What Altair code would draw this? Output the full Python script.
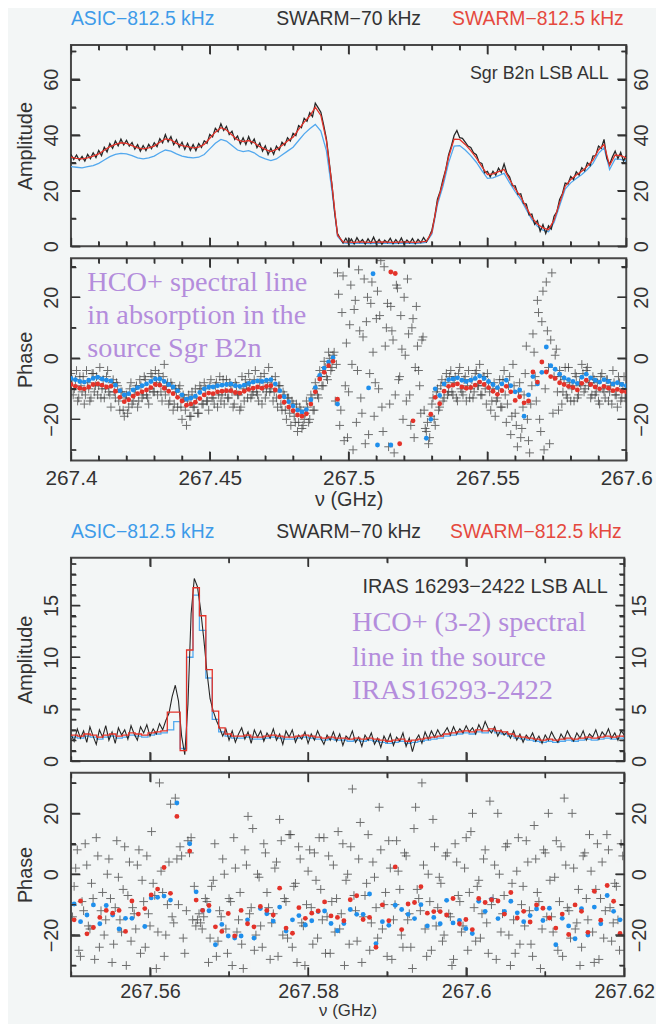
import altair as alt
import pandas as pd

# ------------------------------------------------------------------ data
# Sgr B2n panel: channel grids (GHz)
P1_START = 267.4
AMP1_STEP = 0.002        # SWARM / ASIC 812.5 kHz amplitude samples shown
AMP1_BLACK_STEP = 0.001  # SWARM 70 kHz amplitude samples shown
PH1_STEP = 0.0016
PH1_BLACK_STEP = 0.0008
PH1_BLACK2_START = 267.4004

amp1_red = [32.0, 31.6, 31.4, 31.8, 32.4, 33.2, 34.5, 35.8, 36.6, 37.2,
            37.0, 36.2, 35.4, 35.0, 35.4, 36.0, 37.4, 38.6, 38.2, 37.0,
            36.2, 35.8, 35.4, 35.6, 36.6, 38.8, 41.0, 42.6, 41.8, 40.0,
            38.2, 37.6, 38.0, 37.2, 35.8, 34.8, 34.0, 34.8, 36.2, 37.8,
            39.2, 42.0, 44.6, 46.8, 50.0, 47.0, 38.0, 22.0, 4.0, 1.6,
            1.5, 1.4, 1.6, 1.5, 1.4, 1.5, 1.6, 1.5, 1.4, 1.5, 1.6, 1.5, 1.4, 1.6, 1.8,
            5.0, 16.0, 23.0, 32.0, 38.5, 38.4, 36.6, 34.4, 31.8, 28.6,
            25.8, 26.0, 26.8, 27.6, 24.0, 20.6, 17.8, 14.0, 10.4, 8.0,
            6.6, 6.0, 9.4, 15.6, 21.6, 24.0, 25.6, 27.0, 28.8, 31.0,
            34.6, 36.6, 29.0, 32.8, 32.6, 31.8]

amp1_blue = [28.6, 28.4, 28.2, 28.6, 29.0, 29.8, 31.0, 32.2, 33.0, 33.4,
             33.2, 32.6, 31.8, 31.4, 31.8, 32.4, 33.6, 34.6, 34.2, 33.2,
             32.4, 32.0, 31.8, 32.0, 33.0, 35.0, 37.0, 38.4, 37.8, 36.2,
             34.6, 34.0, 34.4, 33.6, 32.2, 31.4, 30.8, 31.4, 32.8, 34.2,
             35.6, 38.0, 40.4, 42.2, 43.8, 41.4, 34.4, 20.0, 3.6, 1.2,
             1.1, 1.0, 1.2, 1.1, 1.0, 1.1, 1.2, 1.1, 1.0, 1.1, 1.2, 1.1, 1.0, 1.2, 1.4,
             4.4, 15.0, 21.6, 30.0, 36.0, 36.2, 34.6, 32.6, 30.2, 27.2,
             24.4, 24.6, 25.4, 26.2, 22.8, 19.6, 16.8, 13.2, 9.6, 7.2,
             5.8, 5.2, 8.6, 14.6, 20.6, 22.8, 24.4, 25.8, 27.6, 29.8,
             33.4, 35.4, 27.6, 31.4, 31.2, 30.6]

amp1_black = [33.1, 31.2, 32.8, 30.9, 32.3, 30.6, 33.0, 31.5, 33.6, 31.9,
              34.4, 32.6, 35.6, 33.9, 36.9, 35.2, 37.8, 36.1, 38.5, 36.4,
              38.1, 36.0, 37.3, 34.9, 36.5, 34.2, 36.2, 34.4, 36.6, 35.1,
              37.2, 35.8, 38.7, 37.2, 40.1, 37.6, 39.4, 36.5, 38.3, 35.6,
              37.4, 34.8, 37.0, 34.5, 36.6, 34.4, 36.9, 35.5, 37.9, 37.0,
              40.2, 39.3, 42.4, 41.2, 44.0, 41.6, 43.1, 40.2, 41.3, 38.4,
              39.6, 36.8, 39.0, 36.6, 39.4, 36.9, 38.5, 35.4, 37.1, 34.2,
              36.1, 33.0, 35.2, 33.1, 36.0, 34.6, 37.4, 36.3, 39.0, 37.8,
              40.6, 39.8, 43.4, 42.6, 46.0, 44.9, 48.0, 46.6, 51.4, 49.8,
              48.2, 43.6, 38.6, 30.4, 22.2, 12.0, 4.6, 2.8, 1.2, 2.9,
              1.0, 2.6, 0.9, 3.1, 1.4, 2.4, 0.8, 2.7, 1.2, 3.3,
              1.0, 2.5, 0.7, 2.2, 1.3, 2.9, 0.9, 2.4, 1.1, 3.0,
              0.8, 2.3, 1.2, 2.8, 0.9, 2.5, 1.3, 3.2, 1.6, 3.4,
              5.8, 10.6, 16.9, 19.8, 24.0, 27.6, 32.8, 36.0, 39.8, 41.6,
              39.0, 38.8, 37.4, 36.0, 35.5, 33.6, 32.9, 30.2, 29.8, 26.4,
              26.9, 25.0, 27.0, 25.6, 28.1, 26.5, 29.6, 26.3, 24.9, 21.8,
              21.7, 18.6, 18.9, 15.4, 15.2, 11.3, 11.6, 7.9, 9.2, 5.4,
              7.8, 4.6, 7.4, 6.2, 10.8, 12.4, 16.8, 18.9, 22.7, 22.4,
              25.1, 24.0, 26.8, 25.6, 28.2, 27.1, 30.0, 29.0, 32.4, 32.6,
              36.0, 35.2, 38.4, 31.6, 29.4, 32.1, 34.2, 31.5, 33.8, 30.6,
              32.6]

ph1_red = [-8.6, -9.2, -9.8, -10.0, -9.4, -8.6, -8.4, -8.8, -9.4, -9.2,
           -10.8, -12.8, -14.2, -13.6, -12.4, -11.6, -11.0, -10.4, -9.6, -8.6,
           -8.8, -9.8, -10.8, -11.6, -12.8, -14.0, -15.4, -15.0, -14.4, -13.2,
           -12.0, -11.4, -11.6, -11.0, -10.8, -10.6, -10.6, -11.2, -11.4, -10.8,
           -10.2, -9.8, -9.4, -9.8, -9.2, -9.0, -10.4, -12.6, -14.4, -16.0,
           -17.2, -18.6, -19.0, -18.2, -15.0, -11.0, -6.8, -4.6, -2.4, -1.0,
           -13.4, None, None, None, None, None, None, None, None, None,
           None, None, 28.3, 27.8, -28.0, None, None, -20.5, None, None,
           None, -18.3, -12.8, -14.9, -10.8, -9.2, -8.8, -8.4, -9.4, -9.8,
           -9.6, -8.8, -7.8, -8.6, -9.6, -10.8, -11.8, -10.6, -9.2, -11.0,
           -13.8, -12.6, -14.6, -14.0, -4.5, -7.8, -1.2, -4.5, -6.0, -6.6,
           -8.0, -8.6, -9.2, -9.6, -10.4, -8.2, -7.2, -8.6, -9.4, -10.0,
           -9.2, -9.8, -10.6, -10.2, -10.8, -11.0]

ph1_blue = [-6.6, -7.0, -7.6, -7.8, -7.2, -6.6, -6.2, -6.8, -7.2, -7.4,
            -8.8, -10.6, -12.0, -11.6, -10.4, -9.6, -9.0, -8.4, -7.6, -6.8,
            -6.8, -7.6, -8.6, -9.4, -10.6, -12.0, -13.4, -13.0, -12.4, -11.2,
            -10.0, -9.4, -9.4, -9.0, -8.8, -8.6, -8.4, -9.0, -9.2, -8.8,
            -8.2, -7.8, -7.4, -7.6, -7.2, -7.0, -8.4, -10.6, -12.6, -14.2,
            -15.6, -17.0, -17.6, -16.8, -13.6, -9.6, -5.6, -3.2, -1.2, 0.2,
            -15.0, None, None, None, None, None, None, -9.7, 27.7, -28.4,
            None, None, -28.4, None, None, None, None, None, None, None,
            -26.2, -20.0, -10.0, -12.2, -8.4, -7.0, -6.8, -6.4, -7.2, -7.6,
            -7.2, -6.6, -5.8, -6.6, -7.6, -8.6, -9.6, -8.4, -7.2, -9.0,
            -11.0, -10.4, -19.0, -12.0, -6.0, -8.4, -4.6, 3.7, -2.4, -3.6,
            -5.2, -6.4, -7.0, -7.6, -8.2, -6.2, -5.2, -6.4, -7.2, -7.8,
            -7.0, -7.6, -8.4, -8.0, -8.6, -9.0]

ph1_black = [-5, -12, -7, -14, -6, -11, -15, -4, -10, -13,
             -5, -9, -12, -3, -10, -13, -6, -11, -16, -7,
             -13, -9, -17, -11, -19, -12, -16, -8, -14, -10,
             -16, -7, -13, -6, -12, -15, -5, -11, -4, -12,
             -7, -14, -2, -9, -15, -8, -17, -10, -16, -9,
             -20, -13, -22, -12, -19, -16, -10, -18, -9, -15,
             -8, -14, -17, -7, -13, -9, -16, -6, -12, -15,
             -7, -13, -9, -16, -8, -12, -17, -6, -14, -9,
             -5, -13, -11, -4, -12, -8, -15, -5, -11, -3,
             -10, -14, -6, -16, -9, -17, -12, -20, -13, -22,
             -15, -21, -24, -16, -23, -20, -14, -21, -12, -17,
             -8, -12, -4, -9, -1, -6, 2, -4, 1, -14,
             28, -22, 15, -27, 5, -11, 24, -30, 19, -4,
             9, -18, 26, 12, -25, 18, 2, -8, 22, 14,
             -16, 30, 10, -29, 17, 6, -12, 23, -6, 3,
             20, -14, 8, -22, 13, -3, 4, -9, 6, -17,
             -24, -28, -19, -13, -22, -10, -16, -7, -13, -5,
             -11, -4, -12, -6, -14, -3, -11, -7, -14, -4,
             -10, -13, -5, -9, -2, -12, -6, -15, -8, -17,
             -10, -19, -13, -7, -16, -4, -21, -9, -25, -2,
             -18, -29, -8, -23, -12, 4, -27, -15, 8, -6,
             19, -20, 12, -30, 25, -3, 6, -18, 1, -11,
             -4, -15, -7, -12, -3, -14, -9, -5, -13, -8,
             -2, -11, -4, -9, -13, -6, -12, -8, -15, -5,
             -11, -7, -14, -9, -4, -12, -16, -8, -13, -6,
             -10]

ph1_black2 = [-7, -10, -4, -13, -9, -6, -12, -8, -14, -5,
              -11, -6, -9, -13, -7, -10, -4, -12, -8, -11,
              -8, -14, -11, -17, -13, -18, -10, -15, -12, -9,
              -14, -9, -12, -7, -13, -10, -6, -11, -8, -5,
              -11, -6, -12, -8, -14, -9, -15, -11, -10, -16,
              -12, -17, -14, -19, -11, -16, -13, -18, -10, -15,
              -10, -14, -9, -13, -15, -8, -12, -14, -7, -11,
              -13, -8, -11, -15, -9, -12, -16, -10, -7, -13,
              -8, -12, -7, -11, -14, -6, -10, -13, -8, -11,
              -7, -11, -13, -9, -15, -11, -17, -13, -18, -14,
              -19, -15, -21, -17, -22, -18, -16, -20, -13, -17,
              -10, -13, -6, -9, -3, -7, 0, -3, 2, -2,
              21, -17, 27, -9, -26, 11, -2, 16, -21, 29,
              -13, 7, -28, 20, -5, 25, -19, 13, -10, 32,
              -24, 4, 18, -15, 9, -31, 24, -7, 14, -20,
              1, 26, -12, 10, -26, 17, -4, -18, 7, -23,
              -21, -26, -15, -20, -11, -17, -9, -14, -8, -12,
              -6, -11, -8, -13, -5, -10, -12, -6, -9, -13,
              -7, -11, -4, -9, -12, -6, -10, -5, -11, -14,
              -8, -14, -10, -16, -7, -12, -15, -6, -19, -9,
              -22, -11, -26, -16, -5, -20, -31, -9, 2, -14,
              15, -24, 22, -10, 9, -28, 28, -6, 3, -17,
              -6, -11, -3, -13, -8, -10, -14, -6, -12, -9,
              -5, -10, -3, -8, -12, -7, -11, -14, -6, -10,
              -13, -7, -11, -15, -8, -12, -6, -14, -10, -13]

# IRAS 16293-2422 panel
P2_START = 267.55
CH812 = 0.0008125
P2_BLACK_STEP = 0.0004
PH2_START = 267.5504
PH2_BLACK2_START = 267.5502

amp2_red = [2.5, 2.4, 2.6, 2.5, 2.3, 2.5, 2.6, 2.4, 2.5, 2.7, 2.6, 2.5, 2.7, 2.8, 2.9,
            4.7, 4.7, 1.0, 10.7, 16.7, 14.0, 8.8, 4.8, 3.2, 2.6,
            2.4, 2.4, 2.5, 2.3, 2.3, 2.4, 2.5, 2.4, 2.3, 2.3,
            2.4, 2.5, 2.4, 2.3, 2.2, 2.3, 2.2, 2.2, 2.1, 2.2,
            2.1, 2.2, 2.1, 2.0, 1.9, 2.0, 2.1, 1.9, 2.0, 2.1,
            2.2, 2.3, 2.4, 2.6, 2.7, 2.8, 2.9, 2.8, 3.0, 2.9,
            3.1, 2.9, 2.8, 2.6, 2.4, 2.3, 2.2, 2.1, 2.0, 2.1,
            2.0, 2.1, 2.2, 2.1, 2.2, 2.3, 2.2, 2.3, 2.4, 2.3,
            2.4, 2.3]

amp2_blue = [2.3, 2.2, 2.4, 2.3, 2.1, 2.3, 2.4, 2.2, 2.3, 2.5, 2.4, 2.3, 2.5, 2.6, 2.7,
             3.0, 3.8, 1.2, 10.0, 16.0, 12.6, 8.0, 4.0, 2.8, 2.4,
             2.2, 2.2, 2.3, 2.1, 2.1, 2.2, 2.3, 2.2, 2.1, 2.1,
             2.2, 2.3, 2.2, 2.1, 2.0, 2.1, 2.0, 2.0, 1.9, 2.0,
             1.9, 2.0, 1.9, 1.8, 1.7, 1.8, 1.9, 1.7, 1.8, 1.9,
             2.0, 2.1, 2.2, 2.4, 2.5, 2.6, 2.7, 2.6, 2.8, 2.7,
             2.9, 2.7, 2.6, 2.4, 2.2, 2.1, 2.0, 1.9, 1.8, 1.9,
             1.8, 1.9, 2.0, 1.9, 2.0, 2.1, 2.0, 2.1, 2.2, 2.1,
             2.2, 2.1]

amp2_black = [2.6, 1.9, 3.1, 2.2, 2.9, 1.8, 3.3, 2.4, 1.6, 3.0,
              2.3, 3.4, 2.0, 2.8, 1.7, 3.2, 2.5, 3.0, 2.1, 3.4,
              2.6, 2.0, 3.3, 2.7, 3.5, 2.4, 3.1, 2.6, 3.6, 3.0,
              3.9, 4.6, 6.2, 7.3, 5.8, 2.4, 0.6, 5.5, 14.2, 17.6,
              16.8, 14.6, 11.8, 8.6, 6.0, 4.8, 3.9, 3.2, 2.4, 3.1,
              2.0, 2.9, 1.8, 2.6, 3.2, 2.1, 2.8, 1.7, 3.0, 2.3,
              2.9, 1.9, 2.7, 2.2, 3.1, 2.0, 2.6, 1.6, 2.9, 2.3,
              3.0, 1.8, 2.5, 2.1, 2.8, 1.7, 2.6, 2.0, 2.9, 2.2,
              1.6, 2.5, 2.0, 2.8, 1.9, 2.6, 1.5, 2.4, 2.1, 2.9,
              1.8, 2.3, 1.4, 2.5, 2.0, 2.7, 1.6, 2.2, 1.3, 2.4,
              1.8, 2.6, 1.5, 2.3, 1.9, 2.7, 1.4, 2.2, 0.9, 2.0,
              2.5, 1.7, 2.8, 2.1, 2.9, 2.3, 3.0, 2.4, 2.7, 3.2,
              2.5, 3.3, 2.6, 3.1, 2.7, 3.4, 2.8, 3.2, 2.6, 3.5,
              2.9, 3.8, 3.1, 2.7, 3.3, 2.4, 3.0, 2.5, 2.8, 2.2,
              2.9, 2.0, 2.6, 1.8, 2.5, 2.1, 2.7, 1.9, 2.4, 1.7,
              2.5, 2.0, 2.8, 2.2, 1.8, 2.6, 2.1, 2.9, 2.3, 1.9,
              2.7, 2.2, 2.9, 2.0, 2.6, 2.3, 3.0, 2.1, 2.8, 2.4,
              3.1, 2.2, 2.7, 2.0, 2.9, 2.5]

ph2_red = [-15.0, -8.8, -19.6, -17.5, -14.2, -11.9, -12.8, -11.9, -18.8, -8.8,
           -13.1, -11.3, -6.8, -4.9, 2.2, -6.3, 19.0, None, 7.6, -8.5,
           -11.9, -10.3, -17.3, -18.8, -12.9, -20.3, -11.9, -16.3, -17.3, -10.6,
           -11.9, -13.4, -4.6, -17.7, -19.4, -11.0, -14.5, -12.8, -12.1, -9.1,
           -13.7, -14.2, -15.3, -8.4, -7.1, -14.9, -14.2, -24.0, -10.1, -15.3,
           2.4, -18.2, -9.8, -9.3, -4.1, -12.8, -12.3, -12.3, -13.4, -8.0,
           -16.3, -14.9, -18.2, -8.0, -9.3, -8.4, -8.8, -13.1, -6.0, -14.4,
           -12.2, -15.7, -10.1, -11.2, -14.4, -17.7, -13.1, -19.8, -10.1, -12.2,
           -19.1, -5.6, -15.1, -3.7, -8.9, -19.5]

ph2_blue = [-9.8, -15.6, -13.4, -10.1, -16.3, -10.3, -13.4, -18.0, -14.5, -14.5,
            None, -17.2, -7.8, -7.6, -7.2, -8.5, 23.4, None, 10.0, -5.8,
            -11.9, -12.0, -23.2, -16.5, -20.3, -21.0, -20.3, -15.0, -21.0, -11.3,
            -13.0, -15.4, -10.8, -18.7, -15.0, -13.6, -16.7, -15.3, -12.3, -12.1,
            -16.2, -18.6, -16.2, -11.6, -13.2, -13.2, -6.5, -22.8, -15.6, -16.8,
            -10.2, -11.6, -13.2, -14.6, -10.0, -17.0, -14.2, -16.3, -8.6, -16.0,
            -15.2, -17.9, -19.5, -8.9, -12.2, -8.2, -14.6, -12.2, -8.9, -12.7,
            -15.6, -13.6, -11.4, -15.2, -11.2, -23.2, -14.5, -17.0, -21.2, -11.3,
            -20.0, -10.8, -16.3, -7.0, -12.2, -15.0]

ph2_black = [-20, -4, 8, -27, -12, 3, -18, -8, 12, -24,
             -6, -15, 5, -29, -11, -1, -19, 9, -7, -22,
             -13, 3, -26, -9, 6, -17, -3, -31, 30, -6,
             -20, 4, -14, 25, -10, 6, -26, 11, 12, -4,
             -15, -16, -14, -9, -21, -2, -27, -12, 5, -18,
             -8, -30, 2, -15, -23, 8, 19, -11, -25, 0,
             -17, 10, -6, -28, -13, 4, 18, -20, -9, 13,
             -24, -3, 9, -16, -30, 1, -11, 7, -21, -5,
             12, -14, -26, 3, -8, -18, 10, -2, -23, 28,
             -12, 5, -29, -7, 13, -16, -1, -21, 8, -10,
             -27, 2, -15, 11, -5, -24, 6, -13, -31, 22,
             -8, 30, -18, 0, -25, 9, -11, -3, -20, 7,
             -14, -28, 4, -9, -17, 12, -6, 20, -22, -2,
             -13, 8, -26, -10, 3, 20, -19, -7, 10, -30,
             -15, 1, -23, -4, 11, -12, -27, 5, -9, -18,
             7, 20, -14, -1, -25, 9, 25, -11, -21, 2,
             -16, -30, 6, -8, 13, -19, -5, -28, 4, -12,
             8, -22, -3, -15, 10, -20]

ph2_black2 = [-14, 2, -25, -9, 10, -17, -3, -28, 6, -12,
              -20, 0, -8, -23, 11, -15, -5, -30, 4, -11,
              -18, 8, -2, -24, -13, 14, -7, -19, 1, -27,
              -10, 23, -16, 5, 9, -21, -12, 7, -15, -17,
              -13, -18, -8, -29, -4, 10, -22, -14, 0, -26,
              -9, 12, -19, -6, -31, 3, -13, 15, -20, -1,
              -24, 7, -11, -16, 2, -27, 11, -8, -21, 13,
              -4, -29, 5, -17, -10, 8, -23, -2, 12, -15,
              -26, 6, -9, -19, 14, -13, -30, 0, 9, -7,
              -22, 17, -14, -3, -25, 4, -11, 22, -18, -6,
              11, -28, -10, 1, -20, 7, -15, -24, 15, -5,
              -12, 3, -27, -9, 18, -17, -1, -22, 6, -13,
              -30, 10, -7, -19, 2, -25, 14, -11, -4, -21,
              5, -16, 24, -8, -28, 0, -13, 9, -20, -3,
              -26, 12, -10, -17, 4, -23, 16, -6, -31, 8,
              -14, -2, -19, 11, -9, -27, 3, -12, 20, -18,
              -5, -24, 7, -15, 1, -29, 10, -8, -21, 13,
              -11, -16, -4, -25, 6]

# axis tick values (data units)
X1_MAJ = [267.4, 267.45, 267.5, 267.55, 267.6]
X1_MIN = [267.41, 267.42, 267.43, 267.44, 267.46, 267.47, 267.48, 267.49,
          267.51, 267.52, 267.53, 267.54, 267.56, 267.57, 267.58, 267.59]
X2_MAJ = [267.56, 267.58, 267.6, 267.62]
X2_MIN = [267.55, 267.57, 267.59, 267.61]
A1_MAJ = [0, 20, 40, 60]
A1_MIN = [10, 30, 50, 70]
A2_MAJ = [0, 5, 10, 15]
A2_MIN = [1, 2, 3, 4, 6, 7, 8, 9, 11, 12, 13, 14, 16, 17, 18, 19]
PH_MAJ = [-20, 0, 20]
PH_MIN = [-30, -10, 10, 30]


def series(start, step, vals):
    return pd.DataFrame({"f": [round(start + i * step, 7) for i in range(len(vals))], "v": vals})


# ------------------------------------------------------------------ style
FONT = "Liberation Sans"
SERIF = "Liberation Serif"
TXT = "#333333"
FRAME = "#484848"
TICK_C = "#333333"
BG = "#f3f6f6"
C_BLUE_LINE = "#52a8ee"
C_BLUE = "#1f8fec"
C_RED = "#e3332a"
C_BLACK = "#262626"
C_PURPLE = "#b48ddc"
CROSS = "M-1,0L1,0M0,-1L0,1"
MAJ_LEN, MIN_LEN = 9, 5

ONE = pd.DataFrame({"k": [0]})


def txt(text, x, y, color, size, font=FONT, align="left"):
    return alt.Chart(ONE).mark_text(text=text, align=align, baseline="middle", font=font,
                                    fontSize=size, color=color).encode(
        x=alt.value(x), y=alt.value(y))


def edge_ticks(length, span):
    """Grid lines dashed so that only a short piece shows at each end: inward frame ticks."""
    return dict(grid=True, gridColor=TICK_C, gridWidth=1.4, gridOpacity=1,
                gridDash=[length, span - 2 * length, length, 4000])


def ylab_axis(orient, values, pad, H, title=None, grid=None):
    kw = dict(orient=orient, values=values, labels=True, ticks=False, tickSize=0, domain=False,
              labelAngle=270, labelAlign="center", labelBaseline="middle",
              labelPadding=pad, labelFont=FONT, labelFontSize=20, labelColor=TXT,
              labelFlush=False, labelOverlap=False, format="d")
    kw.update(grid if grid else dict(grid=False))
    if title:
        kw.update(title=title, titleX=-46, titleY=H / 2, titleAngle=270, titleAlign="center",
                  titleBaseline="middle", titleFont=FONT, titleFontSize=20,
                  titleFontWeight="normal", titleColor=TXT)
    else:
        kw["title"] = None
    return alt.Axis(**kw)


def xlab_axis(values, W, lab_pad, lab_size, title_y, title_size, grid):
    return alt.Axis(orient="bottom", values=values, labels=True, ticks=False, tickSize=0,
                    domain=False, labelPadding=lab_pad, labelBaseline="middle",
                    labelFont=FONT, labelFontSize=lab_size, labelColor=TXT, labelFlush=False,
                    labelOverlap=False, format="~g", title="ν (GHz)", titleX=W / 2,
                    titleY=title_y, titleAlign="center", titleBaseline="middle", titleFont=FONT,
                    titleFontSize=title_size, titleFontWeight="normal", titleColor=TXT, **grid)


def quiet_axis(orient, values, grid):
    # axis that only contributes its (dashed) grid: labels are transparent and tiny
    return alt.Axis(orient=orient, values=values, labels=True, labelOpacity=0, labelFontSize=1,
                    labelPadding=0, labelFlush=False, labelOverlap=False, ticks=False,
                    tickSize=0, domain=False, title=None, **grid)


def tick_layers(xs, ys, xdom, ydom, W, H, xmaj, xmin, ymaj, ymin):
    """Inward frame ticks: short segments in the panel's data coordinates."""
    kx = (xdom[1] - xdom[0]) / W   # data units per pixel
    ky = (ydom[1] - ydom[0]) / H
    segs = []
    for vals, ln in ((xmaj, MAJ_LEN), (xmin, MIN_LEN)):
        for t in vals:
            segs.append((t, ydom[1], t, ydom[1] - ln * ky))
            segs.append((t, ydom[0], t, ydom[0] + ln * ky))
    for vals, ln in ((ymaj, MAJ_LEN), (ymin, MIN_LEN)):
        for t in vals:
            segs.append((xdom[0], t, xdom[0] + ln * kx, t))
            segs.append((xdom[1], t, xdom[1] - ln * kx, t))
    pts = []
    for i, (a, b, c, d) in enumerate(segs):
        pts.append({"f": a, "v": b, "k": i})
        pts.append({"f": c, "v": d, "k": i})
    lines = alt.Chart(pd.DataFrame(pts)).mark_line(
        color=TICK_C, strokeWidth=1.4, clip=True).encode(
        x=alt.X("f:Q", scale=xs, axis=None), y=alt.Y("v:Q", scale=ys, axis=None),
        detail="k:N")
    return [lines]


def panel(marks, xdom, ydom, W, H, xmaj, xmin, ymaj, ymin, ytitle, xaxis, texts):
    xs = alt.Scale(domain=xdom, nice=False, zero=False)
    ys = alt.Scale(domain=ydom, nice=False, zero=False)
    gx_maj, gx_min = edge_ticks(MAJ_LEN, H), edge_ticks(MIN_LEN, H)
    gy_maj, gy_min = edge_ticks(MAJ_LEN, W), edge_ticks(MIN_LEN, W)
    x0 = xlab_axis(xmaj, W, *xaxis, gx_maj) if xaxis else quiet_axis("bottom", xmaj, gx_maj)
    x_axes = [x0, quiet_axis("bottom", xmin, gx_min)] + [None] * 4
    y_axes = [ylab_axis("left", ymaj, 19.7, H, ytitle, gy_maj),
              ylab_axis("right", ymaj, 15.6, H),
              quiet_axis("left", ymin, gy_min)] + [None] * 3
    layers = []
    for i, (df, mk) in enumerate(marks):
        layers.append(mk(alt.Chart(df)).encode(
            x=alt.X("f:Q", scale=xs, axis=x_axes[i]),
            y=alt.Y("v:Q", scale=ys, axis=y_axes[i])))
    ticks = tick_layers(xs, ys, xdom, ydom, W, H, xmaj, xmin, ymaj, ymin)
    return alt.layer(*layers, *texts, *ticks).resolve_axis(
        x="independent", y="independent").properties(width=W, height=H)


W1, W2 = 560, 558
HA1, HP1, HA2, HP2 = 203, 204, 205, 205


def line(color, w=1.2, interp="linear"):
    return lambda c: c.mark_line(color=color, strokeWidth=w, interpolate=interp, clip=True)


def crosses(c):
    return c.mark_point(shape=CROSS, size=76, filled=False, strokeWidth=1, color="#333333",
                        opacity=0.7, clip=True)


def dots(color):
    return lambda c: c.mark_circle(size=24, color=color, opacity=1, clip=True)


def legend_row(W):
    return [txt("ASIC−812.5 kHz", 0, -26, "#3d9be9", 19.5),
            txt("SWARM−70 kHz", 207, -26, "#333333", 19.5),
            txt("SWARM−812.5 kHz", W - 2.5, -26, "#e5493e", 19.5, align="right")]


amp1 = panel(
    [(series(P1_START, AMP1_STEP, amp1_blue), line(C_BLUE_LINE, 1.3)),
     (series(P1_START, AMP1_BLACK_STEP, amp1_black), line(C_BLACK, 1.3)),
     (series(P1_START, AMP1_STEP, amp1_red), line(C_RED, 1.3))],
    [267.4, 267.6], [0, 72.3], W1, HA1, X1_MAJ, X1_MIN, A1_MAJ, A1_MIN, "Amplitude", None,
    legend_row(W1) + [txt("Sgr B2n LSB ALL", W1 - 17.7, 29.3, "#333333", 18, align="right")])

ph1 = panel(
    [(series(P1_START, PH1_BLACK_STEP, ph1_black), crosses),
     (series(PH1_BLACK2_START, PH1_BLACK_STEP, ph1_black2), crosses),
     (series(P1_START, PH1_STEP, ph1_blue), dots(C_BLUE)),
     (series(P1_START, PH1_STEP, ph1_red), dots(C_RED))],
    [267.4, 267.6], [-33.5, 32.8], W1, HP1, X1_MAJ, X1_MIN, PH_MAJ, PH_MIN, "Phase",
    (18, 21, 39, 20),
    [txt("HCO+ spectral line", 16.5, 24, C_PURPLE, 28.5, SERIF),
     txt("in absorption in the", 16.5, 57.5, C_PURPLE, 28.5, SERIF),
     txt("source Sgr B2n", 16.5, 91, C_PURPLE, 28.5, SERIF)])

amp2 = panel(
    [(series(P2_START, CH812, amp2_blue), line(C_BLUE_LINE, 1.3, "step-after")),
     (series(P2_START, P2_BLACK_STEP, amp2_black), line(C_BLACK, 1.1)),
     (series(P2_START, CH812, amp2_red), line(C_RED, 1.3, "step-after"))],
    [267.55, 267.62], [0, 19.6], W2, HA2, X2_MAJ, X2_MIN, A2_MAJ, A2_MIN, "Amplitude", None,
    legend_row(W2) + [
        txt("IRAS 16293−2422 LSB ALL", W2 - 16.7, 30, "#333333", 20, align="right"),
        txt("HCO+ (3-2) spectral", 283.4, 65, C_PURPLE, 28.5, SERIF),
        txt("line in the source", 283.4, 100, C_PURPLE, 28.5, SERIF),
        txt("IRAS16293-2422", 283.4, 133.5, C_PURPLE, 28.5, SERIF)])

ph2 = panel(
    [(series(P2_START, P2_BLACK_STEP, ph2_black), crosses),
     (series(PH2_BLACK2_START, P2_BLACK_STEP, ph2_black2), crosses),
     (series(PH2_START, CH812, ph2_blue), dots(C_BLUE)),
     (series(PH2_START, CH812, ph2_red), dots(C_RED))],
    [267.55, 267.62], [-33.5, 33.3], W2, HP2, X2_MAJ, X2_MIN, PH_MAJ, PH_MIN, "Phase",
    (16, 20, 34.5, 17), [])

chart = alt.vconcat(
    alt.vconcat(amp1, ph1, spacing=4),
    alt.vconcat(amp2, ph2, spacing=4),
    spacing=11,
).properties(padding={"left": 6.5, "top": -4, "right": 0, "bottom": 10}).configure(
    background=BG).configure_view(stroke=FRAME, strokeWidth=2)

chart.save("out.html", embed_options={"renderer": "svg", "actions": False})
